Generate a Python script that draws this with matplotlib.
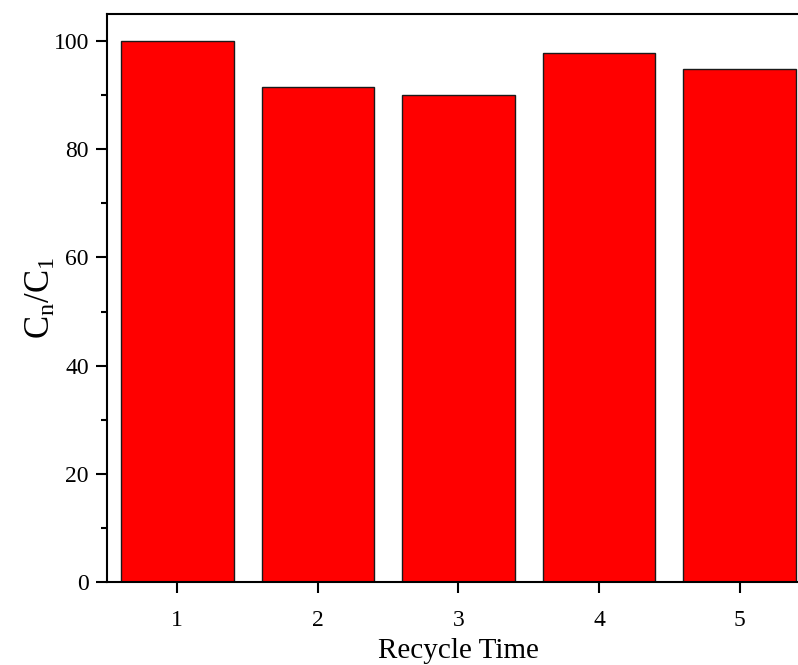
import matplotlib
matplotlib.use("Agg")
import matplotlib.pyplot as plt
from matplotlib.ticker import MultipleLocator

plt.rcParams['font.family'] = ['Liberation Serif', 'DejaVu Serif']
plt.rcParams['mathtext.fontset'] = 'custom'
plt.rcParams['mathtext.rm'] = 'Liberation Serif'
plt.rcParams['mathtext.it'] = 'Liberation Serif'

recycle = [1, 2, 3, 4, 5]
ratio = [100.0, 91.5, 90.0, 97.7, 94.8]

fig = plt.figure(figsize=(7.98, 6.65), dpi=100)
# axes run past the right edge, as in the reference crop
ax = fig.add_axes([107/798, 83/665, 703/798, 568/665])

ax.bar(recycle, ratio, width=0.8, color='#ff0000', edgecolor='#1a1a1a', linewidth=1.0)

ax.set_xlim(0.5, 5.5)
ax.set_ylim(0, 105)
ax.set_xticks(recycle)
ax.yaxis.set_major_locator(MultipleLocator(20))
ax.yaxis.set_minor_locator(MultipleLocator(10))

for s in ax.spines.values():
    s.set_linewidth(1.5)
ax.spines['right'].set_visible(False)

ax.tick_params(axis='both', which='major', direction='out', length=8, width=1.5,
               labelsize=17, color='black')
ax.tick_params(axis='x', which='major', pad=12)
ax.tick_params(axis='y', which='major', pad=5)
ax.tick_params(axis='y', which='minor', direction='out', length=4, width=1.5)

ax.set_xlabel("Recycle Time", fontsize=21, labelpad=5)
ax.set_ylabel("C$_\\mathrm{n}$/C$_\\mathrm{1}$", fontsize=25, labelpad=-3)

fig.savefig("out.png", dpi=100)
